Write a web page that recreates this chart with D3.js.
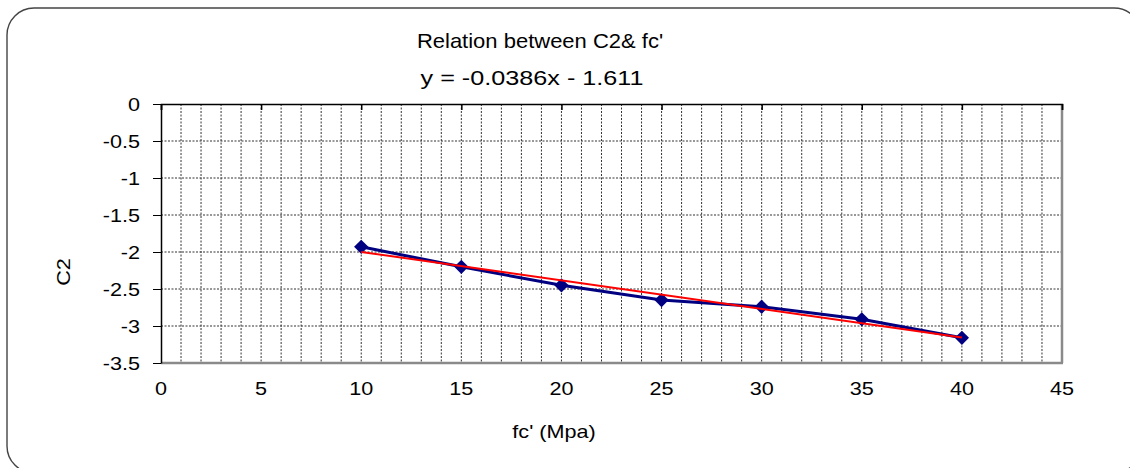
<!DOCTYPE html>
<html><head><meta charset="utf-8">
<script src="https://cdn.jsdelivr.net/npm/d3@7"></script>
<style>body{margin:0;background:#fff}svg{display:block}text{font-family:"Liberation Sans",Arial,sans-serif;fill:#000}</style>
</head><body><svg id="c" width="1130" height="468"></svg>
<script>
const fc = [10, 15, 20, 25, 30, 35, 40];
const c2 = [-1.93, -2.20, -2.45, -2.65, -2.74, -2.91, -3.16];
const xTicks = [0, 5, 10, 15, 20, 25, 30, 35, 40, 45];
const yTicks = [0, -0.5, -1, -1.5, -2, -2.5, -3, -3.5];
const titleText = "Relation between C2& fc'";
const eqText = "y = -0.0386x - 1.611";
const xTitle = "fc' (Mpa)";
const yTitle = "C2";

const svg = d3.select("#c");
const L = 161, R = 1062, T = 104, B = 363;
const x = d3.scaleLinear().domain([0, 45]).range([L, R]);
const y = d3.scaleLinear().domain([-3.5, 0]).range([B, T]);

// chart area border
svg.append("rect").attr("x", 7).attr("y", 8).attr("width", 1134).attr("height", 465)
  .attr("rx", 27).attr("ry", 27).attr("fill", "#fff").attr("stroke", "#444").attr("stroke-width", 1.4);

function txt(s, px, py, size, sx, anchor, rot) {
  const g = svg.append("g").attr("transform", `translate(${px},${py})` + (rot ? ` rotate(${rot})` : "") + ` scale(${sx},1)`);
  g.append("text").attr("text-anchor", anchor || "middle").attr("font-size", size).text(s);
}

// gridlines
const vGrid = d3.range(1, 45);
svg.append("g").selectAll("line").data(vGrid).join("line")
  .attr("x1", d => x(d)).attr("x2", d => x(d)).attr("y1", T).attr("y2", B)
  .attr("stroke", "#333").attr("stroke-width", 1).attr("stroke-dasharray", "2,1.5");
svg.append("g").selectAll("line").data(yTicks.filter(d => d !== 0 && d !== -3.5)).join("line")
  .attr("x1", L).attr("x2", R).attr("y1", d => y(d)).attr("y2", d => y(d))
  .attr("stroke", "#333").attr("stroke-width", 1).attr("stroke-dasharray", "2,1.5");

// plot border bottom/right (gray)
svg.append("line").attr("x1", L).attr("x2", R + 1).attr("y1", B).attr("y2", B).attr("stroke", "#8a8a8a").attr("stroke-width", 2.5);
svg.append("line").attr("x1", R).attr("x2", R).attr("y1", T).attr("y2", B).attr("stroke", "#8a8a8a").attr("stroke-width", 2.5);

// x axis at y=0 (top) with inside ticks
const xAxis = d3.axisBottom(x).tickValues(xTicks).tickSize(6).tickFormat("");
const gx = svg.append("g").attr("transform", `translate(0,${T})`).call(xAxis);
gx.select(".domain").attr("stroke", "#000").attr("stroke-width", 1.5);
gx.selectAll(".tick line").attr("stroke", "#000").attr("stroke-width", 1.5);

// y axis with outside ticks
const yAxis = d3.axisLeft(y).tickValues(yTicks).tickSize(8).tickSizeOuter(0).tickFormat("");
const gy = svg.append("g").attr("transform", `translate(${L},0)`).call(yAxis);
gy.select(".domain").attr("stroke", "#000").attr("stroke-width", 1.5);
gy.selectAll(".tick line").attr("stroke", "#000").attr("stroke-width", 1);

// tick labels
xTicks.forEach(d => txt(String(d), x(d), 395, 18, 1.2, "middle"));
yTicks.forEach(d => txt(String(d), 140, y(d) + 7, 18, 1.2, "end"));

// series line
const line = d3.line().x(d => x(d[0])).y(d => y(d[1]));
const pts = fc.map((v, i) => [v, c2[i]]);
svg.append("path").attr("d", line(pts)).attr("fill", "none").attr("stroke", "#000080").attr("stroke-width", 3);
svg.append("g").selectAll("path").data(pts).join("path")
  .attr("d", d3.symbol().type(d3.symbolDiamond2).size(130))
  .attr("transform", d => `translate(${x(d[0])},${y(d[1])})`)
  .attr("fill", "#000080");

// linear trendline computed from the data
const mx = d3.mean(fc), my = d3.mean(c2);
const slope = d3.sum(fc.map((v, i) => (v - mx) * (c2[i] - my))) / d3.sum(fc.map(v => (v - mx) ** 2));
const icpt = my - slope * mx;
const tx = d3.extent(fc);
svg.append("path").attr("d", line(tx.map(v => [v, slope * v + icpt])))
  .attr("fill", "none").attr("stroke", "#ff0000").attr("stroke-width", 2);

// titles
txt(titleText, 540, 48, 20, 1.1, "middle");
txt(eqText, 532, 85, 21, 1.2, "middle");
txt(xTitle, 554, 438, 18, 1.2, "middle");
txt(yTitle, 70, 272, 18, 1.2, "middle", -90);
</script></body></html>
